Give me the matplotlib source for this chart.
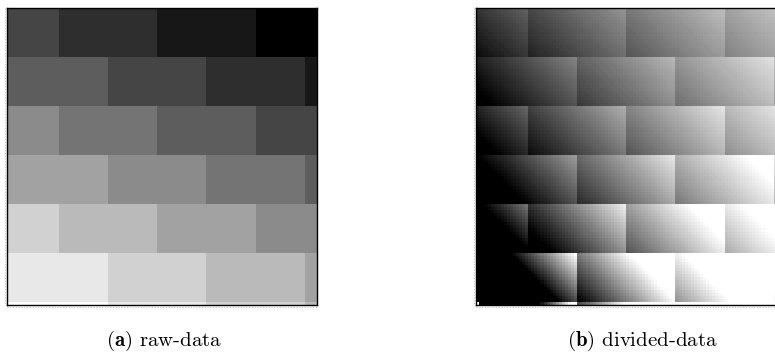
import numpy as np
import matplotlib
matplotlib.use("Agg")
import matplotlib.pyplot as plt
from matplotlib.lines import Line2D

plt.rcParams["mathtext.fontset"] = "cm"

# ---- data: raw block values, band by band (top to bottom) ----
band_heights = [16, 16, 16, 16, 16, 16, 1]
band_breaks = [[17, 49, 81], [33, 65, 97], [17, 49, 81], [33, 65, 97],
               [17, 49, 81], [33, 65, 97], [33, 65, 97]]
band_values = [[8, 9, 10, 11], [7, 8, 9, 10], [5, 6, 7, 8], [4, 5, 6, 7],
               [2, 3, 4, 5], [1, 2, 3, 4], [0, 1, 2, 3]]
n_cols = 101

# divisor used for the divided data: numerator field / (raw + divisor_offset)
numerator_offset = -12.9
divisor_offset = 1.0
missing_cells = [(96, 0)]  # (row, col) shown as blank

# ---- build the raw image ----
cols = np.arange(n_cols)
bands = []
for h, br, vals in zip(band_heights, band_breaks, band_values):
    row = np.array(vals)[np.searchsorted(br, cols, side="right")]
    bands.append(np.tile(row, (h, 1)))
raw = np.vstack(bands).astype(float)
n_rows = raw.shape[0]

rows_up = (n_rows - 1 - np.arange(n_rows))[:, None]
numerator = cols[None, :] + rows_up + numerator_offset
divided = numerator / (raw + divisor_offset)
for r, c in missing_cells:
    divided[r, c] = np.nan

W, H = 775, 358
fig = plt.figure(figsize=(W / 100, H / 100), dpi=100)

def px_axes(x0, y0, x1, y1):
    return fig.add_axes([x0 / W, 1 - y1 / H, (x1 - x0) / W, (y1 - y0) / H])

ax1 = px_axes(7.3, 8.3, 317.0, 305.0)
ax1.imshow(raw, cmap="gray_r", vmin=0, vmax=11, aspect="auto",
           interpolation="nearest")

cm = plt.get_cmap("gray").copy()
cm.set_bad("white")
ax2 = px_axes(476.0, 8.3, 785.7, 305.0)
ax2.imshow(divided, cmap=cm, vmin=7.06, vmax=17.6, aspect="auto",
           interpolation="nearest")

for ax in (ax1, ax2):
    ax.set_xticks([])
    ax.set_yticks([])
    for s in ax.spines.values():
        s.set_color("black")
        s.set_linewidth(1.0)

# faint dotted image borders
def fline(xs, ys):
    fig.add_artist(Line2D([x / W for x in xs], [1 - y / H for y in ys],
                          color="#c4c4c4", lw=0.8, ls=(0, (1, 1.5))))

fline([5, 5], [8, 305])
fline([7, 318], [307, 307])
fline([474, 474], [8, 305])
fline([476, 775], [307, 307])

fig.text(164 / W, 1 - 341 / H, r"$\mathbf{(a)}$ raw-data", family="cmr10",
         fontsize=15, ha="center", va="center")
fig.text(642 / W, 1 - 341 / H, r"$\mathbf{(b)}$ divided-data", family="cmr10",
         fontsize=15, ha="center", va="center")

fig.savefig("out.png", dpi=100)
